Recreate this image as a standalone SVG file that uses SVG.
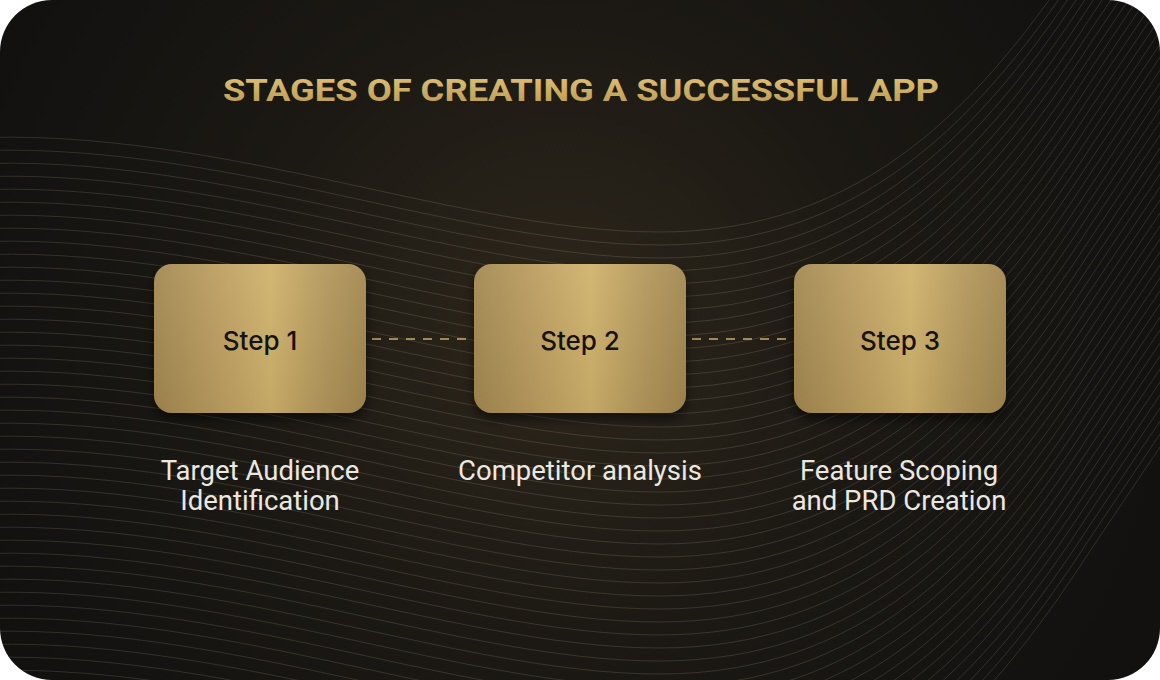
<svg xmlns="http://www.w3.org/2000/svg" xmlns:xlink="http://www.w3.org/1999/xlink" width="1160" height="680" viewBox="0 0 1160 680">
  <defs>
    <radialGradient id="bgGlow" cx="560" cy="330" r="620" gradientUnits="userSpaceOnUse">
      <stop offset="0" stop-color="#2e271b"/>
      <stop offset="0.5" stop-color="#1c1914"/>
      <stop offset="1" stop-color="#121110"/>
    </radialGradient>
    <linearGradient id="gold" x1="0" y1="0" x2="1" y2="0">
      <stop offset="0" stop-color="#a38850"/>
      <stop offset="0.3" stop-color="#bc9e60"/>
      <stop offset="0.55" stop-color="#d0b26c"/>
      <stop offset="0.8" stop-color="#b4985c"/>
      <stop offset="1" stop-color="#a3884f"/>
    </linearGradient>
    <linearGradient id="goldV" x1="0" y1="0" x2="0" y2="1">
      <stop offset="0" stop-color="#ffffff" stop-opacity="0.06"/>
      <stop offset="1" stop-color="#000000" stop-opacity="0.06"/>
    </linearGradient>
    <linearGradient id="titleGold" x1="0" y1="0" x2="0" y2="1">
      <stop offset="0" stop-color="#e2c47a"/>
      <stop offset="1" stop-color="#b8974f"/>
    </linearGradient>
    <clipPath id="card">
      <rect x="0" y="0" width="1160" height="680" rx="52" ry="52"/>
    </clipPath>
    <path id="wave" d="M -60,140 C 200,118 450,232 660,232 C 860,232 980,110 1090,-60 L 1400,-520" fill="none"/>
    <filter id="shadow" x="-20%" y="-20%" width="140%" height="150%">
      <feDropShadow dx="0" dy="6" stdDeviation="6" flood-color="#000" flood-opacity="0.55"/>
    </filter>
    <style>
      .wv { stroke: #d8ccaa; stroke-width: 0.8; stroke-opacity: 0.2; fill: none; }
      .box { fill: url(#gold); }
      .boxv { fill: url(#goldV); }
      .step { font-family: Inter, "Liberation Sans", sans-serif; font-weight: 500; font-size: 26px; fill: #151310; text-anchor: middle; }
      .label { font-family: Roboto, "Liberation Sans", sans-serif; font-size: 27.5px; fill: #ebe8e1; text-anchor: middle; }
      .title { font-family: Roboto, "Liberation Sans", sans-serif; font-weight: 700; font-size: 31px; fill: url(#titleGold); text-anchor: middle; }
      .conn { stroke: #c9ad62; stroke-width: 1.6; stroke-dasharray: 9 8; fill: none; }
    </style>
  </defs>

  <rect x="0" y="0" width="1160" height="680" fill="#ffffff"/>
  <g clip-path="url(#card)">
    <rect x="0" y="0" width="1160" height="680" fill="url(#bgGlow)"/>
    <g id="waves">
      <use href="#wave" class="wv" transform="translate(0,0)"/>
      <use href="#wave" class="wv" transform="translate(0,13)"/>
      <use href="#wave" class="wv" transform="translate(0,26)"/>
      <use href="#wave" class="wv" transform="translate(0,39)"/>
      <use href="#wave" class="wv" transform="translate(0,52)"/>
      <use href="#wave" class="wv" transform="translate(0,65)"/>
      <use href="#wave" class="wv" transform="translate(0,78)"/>
      <use href="#wave" class="wv" transform="translate(0,91)"/>
      <use href="#wave" class="wv" transform="translate(0,104)"/>
      <use href="#wave" class="wv" transform="translate(0,117)"/>
      <use href="#wave" class="wv" transform="translate(0,130)"/>
      <use href="#wave" class="wv" transform="translate(0,143)"/>
      <use href="#wave" class="wv" transform="translate(0,156)"/>
      <use href="#wave" class="wv" transform="translate(0,169)"/>
      <use href="#wave" class="wv" transform="translate(0,182)"/>
      <use href="#wave" class="wv" transform="translate(0,195)"/>
      <use href="#wave" class="wv" transform="translate(0,208)"/>
      <use href="#wave" class="wv" transform="translate(0,221)"/>
      <use href="#wave" class="wv" transform="translate(0,234)"/>
      <use href="#wave" class="wv" transform="translate(0,247)"/>
      <use href="#wave" class="wv" transform="translate(0,260)"/>
      <use href="#wave" class="wv" transform="translate(0,273)"/>
      <use href="#wave" class="wv" transform="translate(0,286)"/>
      <use href="#wave" class="wv" transform="translate(0,299)"/>
      <use href="#wave" class="wv" transform="translate(0,312)"/>
      <use href="#wave" class="wv" transform="translate(0,325)"/>
      <use href="#wave" class="wv" transform="translate(0,338)"/>
      <use href="#wave" class="wv" transform="translate(0,351)"/>
      <use href="#wave" class="wv" transform="translate(0,364)"/>
      <use href="#wave" class="wv" transform="translate(0,377)"/>
      <use href="#wave" class="wv" transform="translate(0,390)"/>
      <use href="#wave" class="wv" transform="translate(0,403)"/>
      <use href="#wave" class="wv" transform="translate(0,416)"/>
      <use href="#wave" class="wv" transform="translate(0,429)"/>
      <use href="#wave" class="wv" transform="translate(0,442)"/>
      <use href="#wave" class="wv" transform="translate(0,455)"/>
      <use href="#wave" class="wv" transform="translate(0,468)"/>
      <use href="#wave" class="wv" transform="translate(0,481)"/>
      <use href="#wave" class="wv" transform="translate(0,494)"/>
      <use href="#wave" class="wv" transform="translate(0,507)"/>
      <use href="#wave" class="wv" transform="translate(0,520)"/>
      <use href="#wave" class="wv" transform="translate(0,533)"/>
      <use href="#wave" class="wv" transform="translate(0,546)"/>
      <use href="#wave" class="wv" transform="translate(0,559)"/>
      <use href="#wave" class="wv" transform="translate(0,572)"/>
      <use href="#wave" class="wv" transform="translate(0,585)"/>
      <use href="#wave" class="wv" transform="translate(0,598)"/>
      <use href="#wave" class="wv" transform="translate(0,611)"/>
    </g>
  </g>

  <text class="title" x="581" y="101" textLength="716" lengthAdjust="spacingAndGlyphs">STAGES OF CREATING A SUCCESSFUL APP</text>

  <g id="connectors">
    <line class="conn" x1="372" y1="339" x2="474" y2="339"/>
    <line class="conn" x1="692" y1="339" x2="794" y2="339"/>
  </g>

  <g id="step1">
    <rect class="box" x="154" y="264" width="212" height="149" rx="18" filter="url(#shadow)"/>
    <rect class="boxv" x="154" y="264" width="212" height="149" rx="18"/>
    <text class="step" x="260" y="350">Step 1</text>
  </g>
  <g id="step2">
    <rect class="box" x="474" y="264" width="212" height="149" rx="18" filter="url(#shadow)"/>
    <rect class="boxv" x="474" y="264" width="212" height="149" rx="18"/>
    <text class="step" x="580" y="350">Step 2</text>
  </g>
  <g id="step3">
    <rect class="box" x="794" y="264" width="212" height="149" rx="18" filter="url(#shadow)"/>
    <rect class="boxv" x="794" y="264" width="212" height="149" rx="18"/>
    <text class="step" x="900" y="350">Step 3</text>
  </g>

  <g id="label1">
    <text class="label" x="260" y="480">Target Audience</text>
    <text class="label" x="260" y="510">Identification</text>
  </g>
  <g id="label2">
    <text class="label" x="580" y="480">Competitor analysis</text>
  </g>
  <g id="label3">
    <text class="label" x="899" y="480">Feature Scoping</text>
    <text class="label" x="899" y="510">and PRD Creation</text>
  </g>
</svg>
